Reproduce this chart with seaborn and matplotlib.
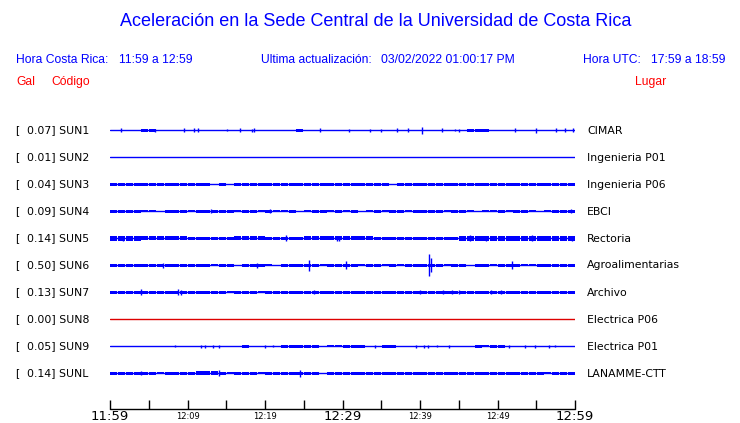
# tratamiento de datos
import pandas as pd
import numpy as np

# visualizaciones
import matplotlib
matplotlib.use('Agg')
import matplotlib.pyplot as plt
import seaborn as sns

# datos
estaciones = ['SUN1', 'SUN2', 'SUN3', 'SUN4', 'SUN5', 'SUN6', 'SUN7', 'SUN8', 'SUN9', 'SUNL']
gal = ['0.07', '0.01', '0.04', '0.09', '0.14', '0.50', '0.13', '0.00', '0.05', '0.14']
lugares = ['CIMAR', 'Ingenieria P01', 'Ingenieria P06', 'EBCI', 'Rectoria',
           'Agroalimentarias', 'Archivo', 'Electrica P06', 'Electrica P01', 'LANAMME-CTT']
colores = ['#0000ff'] * 7 + ['#dd0000'] + ['#0000ff'] * 2

# envolvente por minuto (pixeles por encima de la linea base), 60 minutos
env_sun1 = [0, 0, 0, 0, 1, 0.8, 0, 0, 0, 0, 0, 0, 0, 0, 0, 0, 0, 0, 0, 0,
            0, 0, 0, 0, 1, 0, 0, 0, 0, 0, 0, 0, 0, 0, 0, 0, 0, 0, 0, 0,
            0, 0, 0, 0, 0, 0, 0.8, 1, 1, 0, 0, 0, 0, 0, 0, 0, 0, 0, 0, 0]
env_sun2 = [0] * 60
env_sun3 = [1, 1, 1, 1, 0.7, 1, 1, 1, 1, 0.7, 1, 1, 1, 0, 1, 0, 0.7, 1, 0.7, 1,
            1, 1, 1, 1, 1, 0.7, 1, 1, 0.7, 0.7, 1, 1, 1, 1, 1, 0.7, 0, 1, 1, 1,
            1, 1, 1, 1, 1, 0.7, 1, 1, 1, 1, 1, 0.7, 0.7, 1, 1, 0.7, 0.7, 1, 1, 1]
env_sun4 = [1, 1, 0.7, 0.7, 0.5, 0.5, 0, 1, 0.7, 0.7, 0.5, 1, 1, 1, 1, 1, 0.5, 1, 1, 0.5,
            1, 0.5, 0.5, 1, 0, 0.5, 1, 1, 0.5, 1, 0.5, 1, 0, 0.5, 0.7, 0.5, 1, 1, 0.5, 0.7,
            1, 0.7, 1, 0.5, 0.7, 0.7, 0.5, 0, 0.5, 0.5, 1, 0.5, 1, 1, 0.5, 0, 0.5, 1, 1, 1]
env_sun5 = [2, 2, 2, 2, 1.5, 1.5, 1.5, 1.5, 1.5, 1.5, 1.3, 1.3, 1.3, 1.3, 1.3, 1.3, 1.5, 1.5, 1.5, 1.5,
            1.3, 1.3, 1.3, 1.3, 1.3, 1.5, 1.5, 1.5, 1.5, 1.5, 1.5, 1.5, 1.5, 1.5, 1.3, 1.3, 1.3, 1.3, 1.3, 1.3,
            1.3, 1.3, 1.3, 1.3, 1.3, 2, 2, 2, 2, 2, 2, 1.8, 1.8, 1.8, 1.8, 1.8, 1.8, 1.8, 1.8, 1.8]
env_sun6 = [0.7, 0.7, 1, 1, 1, 0.7, 0.7, 0.7, 1, 0.7, 0.7, 0.7, 1, 0.5, 1, 0.7, 0, 0.7, 1, 1,
            0.5, 0, 1, 1, 1, 1, 0.7, 0.5, 0.7, 0.7, 0.7, 0.7, 0.5, 0.7, 1, 0.5, 0.7, 0.5, 1, 1,
            1, 1, 0.7, 0.5, 0.7, 0.7, 0, 1, 0.7, 0.5, 0.7, 0.7, 1, 0.5, 0.5, 0.7, 1, 1, 1, 1]
env_sun7 = [0.7, 1, 1, 1, 1.3, 1, 1, 1, 1.3, 1.3, 1, 0.7, 1, 1, 1, 0.5, 1, 1, 1, 0.5,
            1, 1, 1, 1, 1, 1, 1, 0.7, 1, 0.7, 1, 1, 1, 1, 1, 0.7, 1, 1, 1, 1,
            1, 1, 1, 1, 1, 1, 0.7, 1, 1, 1, 1, 1, 0.7, 1, 1, 1, 0.7, 1, 1, 1]
env_sun8 = [0] * 60
env_sun9 = [0, 0, 0, 0, 0, 0, 0, 0, 0, 0, 0, 0, 0, 0, 0, 0, 0, 0.7, 0, 0,
            0, 0, 0.7, 0.7, 0.7, 0.7, 0.7, 0, 0.5, 0.5, 0.7, 0.7, 0.7, 0, 0, 0.7, 0.7, 0, 0, 0,
            0, 0, 0, 0, 0, 0, 0, 0.7, 0.5, 0.7, 0.7, 0, 0, 0, 0, 0, 0, 0, 0, 0]
env_sunl = [0.7, 0.7, 0.7, 1, 0.7, 0.7, 0.5, 1.3, 1.3, 1.3, 1.3, 1.5, 1.5, 1.5, 1, 0.5, 0.7, 0.7, 1, 0.5,
            1.3, 1.3, 1.3, 1.3, 1.3, 1.3, 1, 0, 1, 0.7, 1, 0.7, 1, 0.7, 1, 1, 0.7, 1, 1, 0.7,
            1, 0.7, 1, 1, 1, 0.7, 1, 1, 1, 0.7, 1, 0.7, 1, 1, 1, 0.7, 0.5, 1, 1, 1]
envolventes = [env_sun1, env_sun2, env_sun3, env_sun4, env_sun5,
               env_sun6, env_sun7, env_sun8, env_sun9, env_sunl]

# picos sueltos: (minuto, semi-amplitud en pixeles)
picos = {
    'SUN1': [(1.4, 2), (5.8, 1.5), (9.5, 2), (10.9, 2), (11.4, 2), (15.1, 1), (16.8, 2), (18.3, 1.5),
             (18.6, 2), (27.1, 2), (30.8, 1.5), (33.5, 1.5), (35.0, 1.5), (37.0, 2), (38.5, 2), (40.2, 3.5),
             (42.8, 2), (44.5, 1), (45.0, 1.5), (52.3, 2), (55.0, 2.5), (57.6, 2), (58.7, 2), (59.7, 2)],
    'SUN4': [(13.0, 2), (20.6, 2), (59.5, 2)],
    'SUN5': [(1.7, 2.5), (22.7, 3), (29.3, 2.5), (29.6, 2.5), (46.5, 3), (48.5, 2.5), (54.4, 3), (59.6, 2.5)],
    'SUN6': [(6.8, 2.5), (19.0, 2.5), (25.7, 5.5), (30.5, 4), (41.2, 11), (41.4, 7), (51.9, 4)],
    'SUN7': [(4.0, 3), (8.8, 3), (9.1, 2.5), (26.3, 2), (40.0, 2), (43.0, 2), (44.1, 2), (45.0, 2),
             (49.2, 2), (50.5, 2)],
    'SUN9': [(8.4, 1), (11.8, 1.5), (12.2, 1.5), (13.3, 1.5), (14.0, 1.5), (20.0, 1.5), (21.0, 1),
             (34.2, 1.5), (39.5, 1.5), (40.5, 1.5), (41.0, 1.5), (42.2, 1), (43.8, 1.5), (51.5, 1.5),
             (53.6, 1.5), (54.8, 1.5), (56.6, 1.5), (57.4, 1.0)],
    'SUNL': [(4.0, 2), (14.0, 3), (24.5, 3.5)],
}

minutos_ticks = list(range(0, 61, 5))
etiquetas_tiempo = {0: '11:59', 10: '12:09', 20: '12:19', 30: '12:29', 40: '12:39', 50: '12:49', 60: '12:59'}

# figura
sns.set_style('white')
plt.rcParams['font.family'] = ['DejaVu Sans']
W, H = 740, 423
AZUL, ROJO = '#0000ff', '#ff0000'

fig = plt.figure(figsize=(W / 100, H / 100), dpi=100)
ax = fig.add_axes([110 / W, 0, 465 / W, 1])
ax.set_xlim(0, 60)
ax.set_ylim(H, 0)
ax.axis('off')

y0 = {e: 130.5 + 27 * i for i, e in enumerate(estaciones)}

base = pd.DataFrame({
    'minuto': [0, 60] * len(estaciones),
    'estacion': np.repeat(estaciones, 2),
})
base['y'] = base['estacion'].map(y0)
sns.lineplot(data=base, x='minuto', y='y', hue='estacion', palette=dict(zip(estaciones, colores)),
             estimator=None, legend=False, linewidth=1.0, ax=ax)

centros = np.arange(60) + 0.5
for e, env, c in zip(estaciones, envolventes, colores):
    env = np.array(env, dtype=float)
    # media altura = medio pixel de la linea base + envolvente
    semi = np.where(env > 0, 0.5 + env, 0)
    ax.bar(centros, 2 * semi, bottom=y0[e] - semi, width=0.9, color=c,
           linewidth=0, antialiased=False)
    if e in picos:
        t = [p[0] for p in picos[e]]
        h = np.array([p[1] for p in picos[e]])
        ax.vlines(t, y0[e] - h, y0[e] + h, color=c, linewidth=1.0)

# eje de tiempo
ax.plot([0, 60], [409, 409], color='black', linewidth=1.0, clip_on=False)
ax.vlines(minutos_ticks, 400, 409, color='black', linewidth=1.0, clip_on=False)
for m, lbl in etiquetas_tiempo.items():
    grande = m in (0, 30, 60)
    ax.text(m, 416.5, lbl, ha='center', va='center', fontsize=9.5 if grande else 6,
            color='black', clip_on=False)

# textos
def px(x, y):
    return x / W, 1 - y / H

hfont = ['Liberation Sans', 'DejaVu Sans']
fig.text(*px(120, 22), 'Aceleración en la Sede Central de la Universidad de Costa Rica',
         ha='left', va='center', fontsize=13, color=AZUL, family=hfont)
for x, t in [(16, 'Hora Costa Rica:'), (119, '11:59 a 12:59'), (261, 'Ultima actualización:'),
             (381, '03/02/2022 01:00:17 PM'), (583, 'Hora UTC:'), (651, '17:59 a 18:59')]:
    fig.text(*px(x, 60), t, ha='left', va='center', fontsize=8.7, color=AZUL, family=hfont)
for x, t in [(16, 'Gal'), (51, 'Código'), (635, 'Lugar')]:
    fig.text(*px(x, 82), t, ha='left', va='center', fontsize=8.7, color=ROJO, family=hfont)

for e, g, lugar in zip(estaciones, gal, lugares):
    fig.text(*px(15, y0[e]), '[', ha='left', va='center', fontsize=7.8, color='black')
    fig.text(*px(27, y0[e]), f'{g}] {e}', ha='left', va='center', fontsize=7.8, color='black')
    fig.text(*px(587, y0[e]), lugar, ha='left', va='center', fontsize=7.8, color='black')

fig.savefig('out.png', dpi=100, facecolor='white')
